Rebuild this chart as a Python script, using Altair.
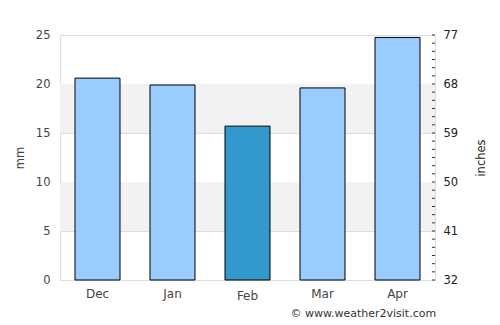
import altair as alt
import pandas as pd

months = ["Dec", "Jan", "Feb", "Mar", "Apr"]
rain_mm = [20.6, 19.9, 15.7, 19.6, 24.75]
highlight = [False, False, True, False, False]
band_lo = [5, 15]
band_hi = [10, 20]
right_major = [32, 41, 50, 59, 68, 77]
right_minor = [32 + 1.5 * i for i in range(31)]

bars_df = pd.DataFrame({"month": months, "mm": rain_mm, "hl": highlight})
bands_df = pd.DataFrame({"mm": band_lo, "hi": band_hi})
ticks_df = pd.DataFrame({"v": right_minor})

FONT = "DejaVu Sans"
W, H = 375, 245

left_axis = alt.Axis(title="mm", values=[0, 5, 10, 15, 20, 25], ticks=False, domain=False,
                     labelPadding=10, labelColor="#444", labelFontSize=11.5, labelFont=FONT,
                     titleFont=FONT, titleFontSize=11.5, titleFontWeight="normal",
                     titleColor="#444", titlePadding=10,
                     grid=True, gridColor="#dddddd")
left_scale = alt.Scale(domain=[0, 25], nice=False)

bands = alt.Chart(bands_df).mark_rect(color="#f2f2f2").encode(
    x=alt.value(0), x2=alt.value(W),
    y=alt.Y("mm:Q", scale=left_scale, axis=left_axis),
    y2="hi:Q",
)

bars = alt.Chart(bars_df).mark_bar(stroke="black", strokeWidth=1).encode(
    x=alt.X("month:N", sort=months, scale=alt.Scale(paddingInner=0.4, paddingOuter=0.2),
            axis=alt.Axis(title=None, labelAngle=0, ticks=False, domain=False,
                          labelPadding={"condition": {"test": "datum.value === 'Feb'", "value": 10}, "value": 8},
                          labelColor="#444", labelFontSize=12, labelFont=FONT)),
    y=alt.Y("mm:Q", scale=left_scale, axis=left_axis),
    color=alt.Color("hl:N", scale=alt.Scale(domain=[False, True], range=["#99ccff", "#3399cc"]), legend=None),
)

left = alt.layer(bands, bars)

right = alt.Chart(ticks_df).mark_rule(color="#333", strokeWidth=1).encode(
    x=alt.value(W - 3), x2=alt.value(W),
    y=alt.Y("v:Q", scale=alt.Scale(domain=[32, 77], nice=False),
            axis=alt.Axis(title="inches", orient="right", values=right_major, ticks=False,
                          domain=False, grid=False, labelPadding=8, labelColor="#222",
                          labelFontSize=11.5, labelFont=FONT, titleFont=FONT, titleFontSize=11.5,
                          titleAngle=270, titleFontWeight="normal", titleColor="#222",
                          titlePadding=29)),
)

chart = alt.layer(left, right).resolve_scale(y="independent").properties(
    width=W, height=H,
    autosize=alt.AutoSizeParams(type="none"),
    padding={"left": 60, "top": 35, "right": 65, "bottom": 45},
    title=alt.TitleParams("© www.weather2visit.com", orient="bottom", anchor="end",
                          fontSize=11, fontWeight="normal", color="#333", font=FONT,
                          offset=7, dx=-51),
).configure_view(stroke="#dddddd", strokeWidth=1).configure(background="white")

chart.save("out.html", embed_options={"renderer": "svg", "actions": False})
